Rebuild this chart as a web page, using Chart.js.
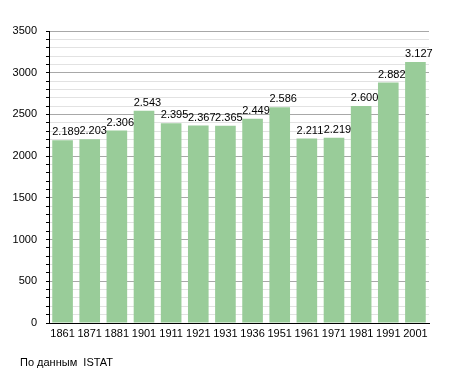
<!DOCTYPE html>
<html>
<head>
<meta charset="utf-8">
<script src="https://cdn.jsdelivr.net/npm/chart.js@4"></script>
<style>
  html, body { margin: 0; padding: 0; background: #fff; }
  #wrap { width: 455px; height: 373px; }
</style>
</head>
<body>
<div id="wrap"><canvas id="chart" width="455" height="373"></canvas></div>
<script>
const years = ['1861', '1871', '1881', '1901', '1911', '1921', '1931', '1936', '1951', '1961', '1971', '1981', '1991', '2001'];
const population = [2189, 2203, 2306, 2543, 2395, 2367, 2365, 2449, 2586, 2211, 2219, 2600, 2882, 3127];
const yMax = 3500;
const sourceNote = 'По данным  ISTAT';

const FONT = '"Liberation Sans", Arial, sans-serif';

// thousands separator as dot, like 2.189
const fmt = (v) => String(v).replace(/\B(?=(\d{3})+(?!\d))/g, '.');

const valueLabels = {
    id: 'valueLabels',
    afterDatasetsDraw(chart) {
        const ctx = chart.ctx;
        const meta = chart.getDatasetMeta(0);
        ctx.save();
        ctx.font = '11px ' + FONT;
        ctx.fillStyle = '#000';
        ctx.textAlign = 'left';
        ctx.textBaseline = 'alphabetic';
        meta.data.forEach((bar, i) => {
            const left = bar.x - bar.width / 2;
            ctx.fillText(fmt(population[i]), left, bar.y - 5);
        });
        ctx.restore();
    }
};

const footer = {
    id: 'footer',
    afterDraw(chart) {
        const ctx = chart.ctx;
        ctx.save();
        ctx.font = '11px ' + FONT;
        ctx.fillStyle = '#000';
        ctx.textAlign = 'left';
        ctx.textBaseline = 'alphabetic';
        ctx.fillText(sourceNote, 20, 366);
        ctx.restore();
    }
};

new Chart(document.getElementById('chart').getContext('2d'), {
    type: 'bar',
    data: {
        labels: years,
        datasets: [{
            data: population,
            backgroundColor: '#99cc99',
            borderWidth: 0,
            barPercentage: 0.76,
            categoryPercentage: 1
        }]
    },
    options: {
        responsive: false,
        animation: false,
        events: [],
        layout: { padding: { top: 31, right: 26, bottom: 30, left: 0 } },
        plugins: {
            legend: { display: false },
            tooltip: { enabled: false }
        },
        scales: {
            x: {
                grid: { display: false, drawTicks: false },
                border: { display: true, color: '#000', width: 1 },
                ticks: {
                    color: '#000',
                    font: { family: FONT, size: 11 },
                    padding: 4,
                    maxRotation: 0,
                    autoSkip: false
                },
                afterFit(scale) { scale.height = 20; }
            },
            y: {
                min: 0,
                max: yMax,
                grid: {
                    color: (c) => (c.tick && c.tick.value % 500 === 0) ? '#a8a8a8' : '#e2e2e2',
                    tickColor: '#000',
                    tickLength: 3,
                    drawTicks: true
                },
                border: { display: true, color: '#000', width: 1 },
                ticks: {
                    stepSize: 100,
                    autoSkip: false,
                    color: '#000',
                    font: { family: FONT, size: 11 },
                    padding: 9,
                    callback: (v) => (v % 500 === 0 ? String(v) : '')
                },
                afterFit(scale) { scale.width = 49; }
            }
        }
    },
    plugins: [valueLabels, footer]
});
</script>
</body>
</html>
